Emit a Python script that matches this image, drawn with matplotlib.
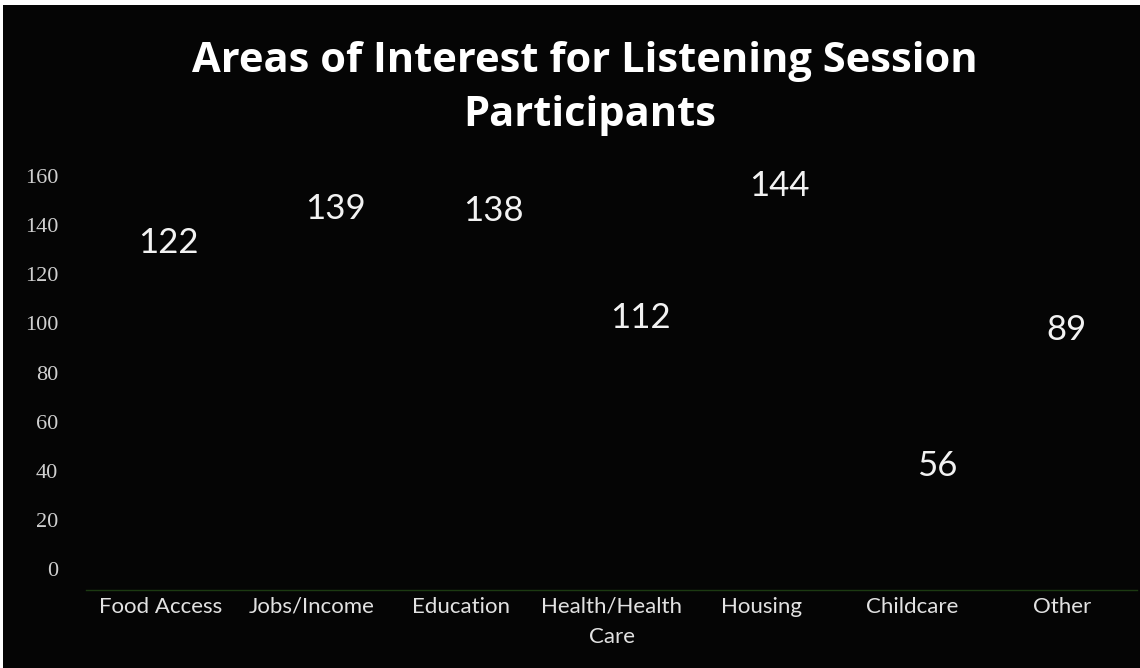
import matplotlib.pyplot as plt
from matplotlib.patches import Rectangle

# data
categories = ['Food Access', 'Jobs/Income', 'Education', 'Health/Health\nCare',
              'Housing', 'Childcare', 'Other']
counts = [122, 139, 138, 112, 144, 56, 89]
yticks = [0, 20, 40, 60, 80, 100, 120, 140, 160]

# where the scanned labels ended up relative to each bar top (category units, data units)
lab_dx = [0.05, 0.16, 0.21, 0.19, 0.12, 0.17, 0.03]
lab_dy = [10.7, 7.6, 7.8, -9.8, 12.0, -14.0, 8.3]

bg = '#050505'

fig = plt.figure(figsize=(11.4, 6.68), dpi=100)
fig.patch.set_facecolor('white')
# black slide area (small white scan border at top/left)
fig.patches.append(Rectangle((3/1140, 0), 1, 1 - 5/668, transform=fig.transFigure,
                             facecolor=bg, edgecolor='none', zorder=-10))

ax = fig.add_axes([86/1140, 78/668, 1051/1140, 414/668])
ax.set_facecolor(bg)
ax.patch.set_alpha(0)

x = list(range(len(categories)))
# bars are black on black in the original
ax.bar(x, counts, width=0.6, color=bg)

for i, v in enumerate(counts):
    ax.text(i + lab_dx[i], v + lab_dy[i], str(v), ha='center', va='center',
            color='#f2f2f2', fontsize=25, family='Lato')

ax.set_xlim(-0.5, len(categories) - 0.5)
ax.set_ylim(-8.5, 160)
ax.set_yticks(yticks)
ax.set_yticklabels([str(t) for t in yticks], family='Liberation Serif', fontsize=16,
                   color='#d0d0d0')
ax.set_xticks(x)
ax.set_xticklabels(categories, family='Lato', fontsize=16, color='#e2e2e2',
                   linespacing=1.6, va='top')
ax.tick_params(axis='both', length=0)
ax.tick_params(axis='y', pad=20)
ax.tick_params(axis='x', pad=5)

for s in ['top', 'right', 'left']:
    ax.spines[s].set_visible(False)
ax.spines['bottom'].set_color('#1c3a12')
ax.spines['bottom'].set_linewidth(1)

fig.text(585/1140, 1 - 62/668, 'Areas of Interest for Listening Session',
         ha='center', va='center', color='white', fontsize=30, fontweight='bold',
         family='Open Sans')
fig.text(590/1140, 1 - 116/668, 'Participants', ha='center', va='center',
         color='white', fontsize=30, fontweight='bold', family='Open Sans')

fig.savefig('out.png', dpi=100, facecolor=fig.get_facecolor())
